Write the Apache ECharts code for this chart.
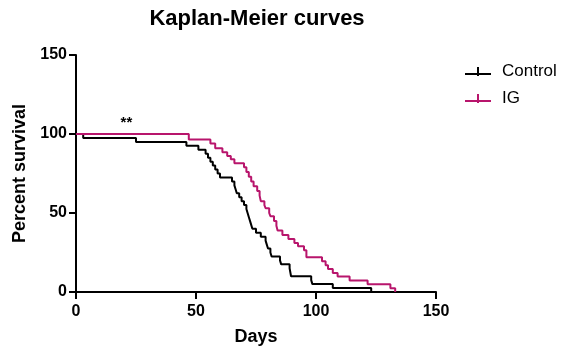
<!DOCTYPE html>
<html>
<head>
<meta charset="utf-8">
<script src="https://cdn.jsdelivr.net/npm/echarts@6/dist/echarts.min.js"></script>
<style>html,body{margin:0;padding:0;background:#fff}#c{width:564px;height:353px}</style>
</head>
<body>
<div id="c"></div>
<script>
// Control: [day, percent survival]
var controlDays = [0, 3, 25, 46, 51, 54, 55, 56, 57, 58, 59, 60, 65, 66, 66.5, 67, 68, 69, 70, 71, 71.5, 72, 72.5, 73, 73.5, 75, 77, 79, 79.5, 80, 81, 81.5, 85, 85.5, 89, 89.3, 89.6, 98, 98.5, 107, 123];
var controlSurv = [100, 97.5, 95, 92.5, 90, 87.5, 85, 82.5, 80, 77.5, 75, 72.5, 70, 67.5, 65, 62.5, 60, 57.5, 55, 52.5, 50, 47.5, 45, 42.5, 40, 37.5, 35, 32.5, 30, 27.5, 25, 22.5, 20, 17.5, 15, 12.5, 10, 7.5, 5, 2.5, 0];
// IG: [day, percent survival]
var igDays = [0, 47, 56, 58, 61, 63, 64.5, 66, 70, 71, 72, 73, 74, 75.5, 76.5, 77, 78.5, 79, 80.5, 81, 82.5, 83.5, 84, 86, 88.5, 91, 92.5, 95, 96, 102.5, 104, 105, 107, 109, 114, 121.5, 131, 133];
var igSurv = [100, 96.5, 94, 91, 88.5, 86, 84, 81.5, 79, 76, 73, 70, 67, 64, 61, 57.5, 55, 53, 50, 48, 45, 42, 39, 36, 33.5, 31, 29, 26.5, 22, 19.5, 17, 14.5, 12, 9.8, 7.3, 4.9, 2.4, 0];
var xTicks = [0, 50, 100, 150];
var yTicks = [0, 50, 100, 150];
var seriesNames = ['Control', 'IG'];
var annotation = {day: 21, surv: 107, text: '**'};

function pairs(d, s) { return d.map(function (v, i) { return [v, s[i]]; }); }

var chart = echarts.init(document.getElementById('c'), null, {renderer: 'canvas'});
var font = 'Liberation Sans, Arial, sans-serif';
var MAG = '#b8156c';
var iconPath = 'path://M0,9 L26,9 L26,11 L0,11 Z M12,3 L14,3 L14,12 L12,12 Z';
chart.setOption({
  animation: false,
  title: {
    text: 'Kaplan-Meier curves', left: 252, top: 3, textAlign: 'center',
    textStyle: {fontFamily: font, fontSize: 22, fontWeight: 'bold', color: '#000'}
  },
  legend: {
    orient: 'vertical', left: 460, top: 58, itemWidth: 26, itemHeight: 14, itemGap: 10,
    data: [
      {name: seriesNames[0], icon: iconPath, itemStyle: {color: '#000'}},
      {name: seriesNames[1], icon: iconPath, itemStyle: {color: MAG}}
    ],
    textStyle: {fontFamily: font, fontSize: 17, color: '#000', padding: [0, 0, 0, 6]}
  },
  grid: {left: 76, right: 128, top: 55, bottom: 61, containLabel: false},
  xAxis: {
    type: 'value', min: 0, max: 150, interval: 50,
    name: 'Days', nameLocation: 'middle', nameGap: 36,
    nameTextStyle: {fontFamily: font, fontSize: 18, fontWeight: 'bold', color: '#000'},
    axisLine: {show: true, onZero: false, lineStyle: {color: '#000', width: 2}},
    axisTick: {show: true, length: 7, lineStyle: {color: '#000', width: 2}},
    axisLabel: {fontFamily: font, fontSize: 16, fontWeight: 'bold', color: '#000', margin: 12,
      formatter: function (v) { return xTicks.indexOf(v) >= 0 ? String(v) : ''; }},
    splitLine: {show: false}
  },
  yAxis: {
    type: 'value', min: 0, max: 150, interval: 50,
    name: 'Percent survival', nameLocation: 'middle', nameGap: 44, nameRotate: 90,
    nameTextStyle: {fontFamily: font, fontSize: 18, fontWeight: 'bold', color: '#000'},
    axisLine: {show: true, onZero: false, lineStyle: {color: '#000', width: 2}},
    axisTick: {show: true, length: 7, lineStyle: {color: '#000', width: 2}},
    axisLabel: {fontFamily: font, fontSize: 16, fontWeight: 'bold', color: '#000', margin: 9,
      formatter: function (v) { return yTicks.indexOf(v) >= 0 ? String(v) : ''; }},
    splitLine: {show: false}
  },
  series: [
    {
      name: seriesNames[0], type: 'line', step: 'end', showSymbol: false, symbol: 'none',
      data: pairs(controlDays, controlSurv),
      lineStyle: {color: '#000', width: 2}, itemStyle: {color: '#000'}, z: 2,
      markPoint: {
        symbol: 'circle', symbolSize: 0,
        label: {show: true, formatter: annotation.text, color: '#000', fontFamily: font, fontSize: 15, fontWeight: 'bold'},
        data: [{coord: [annotation.day, annotation.surv]}]
      }
    },
    {
      name: seriesNames[1], type: 'line', step: 'end', showSymbol: false, symbol: 'none',
      data: pairs(igDays, igSurv),
      lineStyle: {color: MAG, width: 2}, itemStyle: {color: MAG}, z: 3
    }
  ]
});
</script>
</body>
</html>
